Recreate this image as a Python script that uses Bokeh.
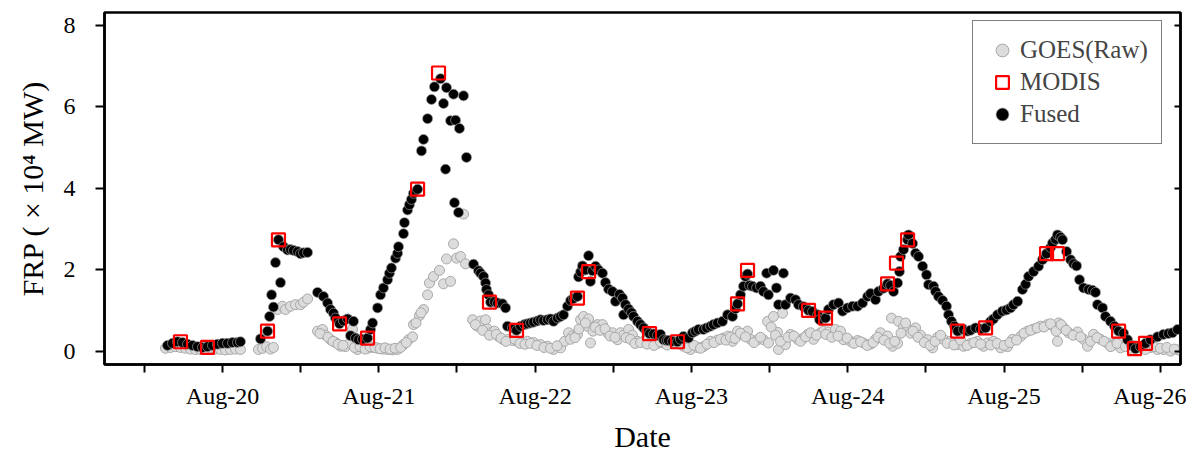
from bokeh.plotting import figure
from bokeh.models import (Range1d, FixedTicker, LinearAxis, Legend, LegendItem)
from bokeh.embed import file_html
from bokeh.resources import INLINE

# ---------------- data (x = day of August, FRP in 10^4 MW) ----------------
goes_day = [19.635, 19.667, 19.699, 19.731, 19.763, 19.795, 19.827, 19.859, 19.891, 19.923,
            19.955, 19.987, 20.019, 20.051, 20.083, 20.115,
            20.230, 20.256, 20.282, 20.307, 20.326, 20.352, 20.384, 20.403, 20.435, 20.467,
            20.499, 20.518, 20.544,
            20.608, 20.640, 20.659, 20.691, 20.723, 20.755, 20.787, 20.813, 20.832, 20.864,
            20.896, 20.928, 20.960, 20.992, 21.024, 21.056, 21.088, 21.120, 21.158, 21.190,
            21.216, 21.222, 21.260, 21.286, 21.312, 21.324, 21.350, 21.388, 21.414, 21.433,
            21.459, 21.478, 21.497, 21.523, 21.542, 21.555, 21.600, 21.631, 21.651, 21.683,
            21.695, 21.715, 21.740, 21.766, 21.798, 21.830, 21.855, 21.887, 21.919, 21.951,
            21.990, 22.035, 22.079, 22.118, 22.163, 22.188, 22.214, 22.239, 22.271, 22.291,
            22.310, 22.335, 22.342, 22.354, 22.399, 22.431, 22.463, 22.495, 22.527, 22.546,
            22.566, 22.598, 22.623, 22.655, 22.694, 22.738, 22.783, 22.822, 22.866, 22.911,
            22.949, 22.994, 23.039, 23.077, 23.122, 23.167, 23.205, 23.237, 23.263, 23.295,
            23.333, 23.359, 23.378, 23.423, 23.461, 23.487, 23.493, 23.525, 23.551, 23.557,
            23.583, 23.602, 23.634, 23.679, 23.717, 23.743, 23.781, 23.826, 23.845, 23.877,
            23.922, 23.954, 23.973, 24.018, 24.063, 24.101, 24.146, 24.178, 24.210, 24.255,
            24.280, 24.287, 24.319, 24.325, 24.357, 24.383, 24.402, 24.434, 24.466, 24.511,
            24.543, 24.575, 24.613, 24.658, 24.703, 24.741, 24.786, 24.830, 24.869, 24.895,
            24.933, 24.978, 25.022, 25.054, 25.106, 25.150, 25.189, 25.234, 25.278, 25.317,
            25.342, 25.349, 25.381, 25.413, 25.470, 25.509, 25.534, 25.573, 25.617, 25.662,
            25.701, 25.745, 25.809, 25.873, 25.937, 25.982, 26.020, 26.065, 26.116,
            # additional, overlapping GOES samples
            20.624, 20.675, 20.707, 20.739, 20.771, 20.845, 20.880, 20.912, 20.944, 20.976,
            21.008, 21.040, 21.072, 21.104, 21.140, 21.176, 21.238, 21.270, 21.618, 21.664,
            21.708, 21.752, 21.782, 21.814, 21.871, 21.903, 21.935, 21.970, 22.012, 22.057,
            22.098, 22.140, 22.226, 22.255, 22.280, 22.322, 22.370, 22.384, 22.415, 22.447,
            22.479, 22.511, 22.582, 22.610, 22.639, 22.675, 22.716, 22.760, 22.802, 22.844,
            22.888, 22.930, 22.972, 23.016, 23.058, 23.100, 23.144, 23.186, 23.220, 23.250,
            23.279, 23.314, 23.346, 23.400, 23.442, 23.510, 23.538, 23.570, 23.618, 23.656,
            23.698, 23.730, 23.762, 23.800, 23.860, 23.898, 23.938, 23.996, 24.040, 24.082,
            24.124, 24.162, 24.194, 24.232, 24.268, 24.300, 24.341, 24.370, 24.418, 24.450,
            24.490, 24.527, 24.559, 24.594, 24.636, 24.680, 24.722, 24.764, 24.808, 24.850,
            24.914, 24.956, 25.000, 25.038, 25.080, 25.128, 25.170, 25.212, 25.256, 25.298,
            25.333, 25.365, 25.397, 25.442, 25.490, 25.554, 25.595, 25.640, 25.682, 25.723,
            25.777, 25.841, 25.905, 25.960, 26.000, 26.042, 26.090]
goes_frp = [0.08, 0.10, 0.12, 0.10, 0.08, 0.06, 0.05, 0.05, 0.06, 0.08,
            0.06, 0.05, 0.04, 0.05, 0.06, 0.05,
            0.05, 0.08, 0.12, 0.06, 0.10, 1.03, 1.11, 1.03, 1.11, 1.15,
            1.15, 1.21, 1.29,
            0.50, 0.54, 0.40, 0.29, 0.22, 0.13, 0.12, 0.20, 0.55, 0.05,
            0.10, 0.08, 0.10, 0.08, 0.06, 0.05, 0.04, 0.05, 0.17, 0.29,
            0.36, 0.66, 0.88, 1.03, 1.39, 1.68, 1.84, 1.99, 1.66, 2.27,
            1.72, 2.64, 2.29, 2.33, 3.37, 2.15, 0.78, 0.62, 0.75, 0.78,
            0.55, 0.46, 0.50, 0.37, 0.29, 0.30, 0.27, 0.25, 0.22, 0.25,
            0.22, 0.17, 0.13, 0.05, 0.09, 0.25, 0.46, 0.38, 0.42, 0.78,
            0.86, 0.62, 0.80, 0.21, 0.66, 0.66, 0.46, 0.46, 0.29, 0.46,
            0.40, 0.54, 0.40, 0.25, 0.25, 0.21, 0.20, 0.21, 0.25, 0.20,
            0.13, 0.05, 0.10, 0.12, 0.25, 0.28, 0.33, 0.38, 0.25, 0.50,
            0.40, 0.50, 0.30, 0.29, 0.29, 0.74, 0.21, 0.86, 0.47, 0.05,
            0.94, 0.17, 0.42, 0.30, 0.33, 0.42, 0.30, 0.46, 0.50, 0.48,
            0.54, 0.50, 0.29, 0.25, 0.27, 0.21, 0.18, 0.30, 0.46, 0.38,
            0.82, 0.13, 0.20, 0.74, 0.60, 0.54, 0.45, 0.58, 0.40, 0.29,
            0.09, 0.35, 0.30, 0.25, 0.17, 0.13, 0.20, 0.25, 0.13, 0.21,
            0.25, 0.09, 0.12, 0.30, 0.37, 0.50, 0.55, 0.62, 0.66, 0.62,
            0.25, 0.70, 0.58, 0.46, 0.48, 0.30, 0.13, 0.42, 0.30, 0.21,
            0.17, 0.09, 0.08, 0.09, 0.10, 0.05, 0.05, 0.01, 0.04,
            0.44, 0.35, 0.25, 0.18, 0.15, 0.10, 0.12, 0.06, 0.12, 0.10,
            0.07, 0.09, 0.06, 0.08, 0.10, 0.22, 0.70, 0.95, 0.66, 0.52,
            0.40, 0.42, 0.33, 0.25, 0.30, 0.20, 0.18, 0.20, 0.15, 0.10,
            0.08, 0.14, 0.30, 0.34, 0.55, 0.70, 0.50, 0.60, 0.52, 0.56,
            0.38, 0.35, 0.34, 0.30, 0.20, 0.22, 0.18, 0.15, 0.24, 0.16,
            0.22, 0.18, 0.09, 0.15, 0.08, 0.18, 0.22, 0.30, 0.28, 0.35,
            0.32, 0.45, 0.36, 0.22, 0.35, 0.60, 0.40, 0.25, 0.35, 0.38,
            0.25, 0.36, 0.46, 0.40, 0.42, 0.35, 0.38, 0.33, 0.20, 0.24,
            0.15, 0.22, 0.35, 0.28, 0.20, 0.25, 0.45, 0.70, 0.50, 0.35,
            0.22, 0.15, 0.25, 0.40, 0.20, 0.16, 0.28, 0.15, 0.22, 0.18,
            0.16, 0.20, 0.15, 0.22, 0.28, 0.45, 0.52, 0.58, 0.60, 0.68,
            0.50, 0.66, 0.52, 0.40, 0.36, 0.25, 0.34, 0.25, 0.12, 0.20,
            0.12, 0.14, 0.05, 0.12, 0.08, 0.10, 0.06]

modis_day = [19.731, 19.904, 20.288, 20.358, 20.749, 20.928, 21.248, 21.382, 21.708, 21.881,
             22.271, 22.342, 22.732, 22.911, 23.295, 23.359, 23.749, 23.858, 24.255, 24.312,
             24.383, 24.703, 24.882, 25.272, 25.342, 25.733, 25.835, 25.905]
modis_frp = [0.24, 0.10, 0.50, 2.74, 0.68, 0.33, 3.98, 6.83, 1.21, 0.52,
             1.31, 1.96, 0.44, 0.24, 1.17, 1.99, 1.01, 0.82, 1.66, 2.17,
             2.74, 0.50, 0.58, 2.40, 2.40, 0.50, 0.07, 0.20]

fused_day = [19.648, 19.680, 19.712, 19.744, 19.776, 19.808, 19.840, 19.872, 19.904, 19.936,
             19.968, 20.000, 20.032, 20.064, 20.096, 20.115,
             20.243, 20.288, 20.301, 20.314, 20.326, 20.339, 20.358, 20.371, 20.390, 20.416,
             20.435, 20.454, 20.480, 20.499, 20.518, 20.544,
             20.608, 20.646, 20.672, 20.691, 20.710, 20.723, 20.749, 20.774, 20.800, 20.819,
             20.838, 20.851, 20.870, 20.896, 20.928, 20.947, 20.960, 20.992, 21.011, 21.030,
             21.056, 21.068, 21.081, 21.107, 21.120, 21.126, 21.158, 21.164, 21.184, 21.196,
             21.209, 21.222, 21.248, 21.273, 21.286, 21.312, 21.337, 21.356, 21.395, 21.414,
             21.427, 21.433, 21.459, 21.478, 21.484, 21.491, 21.510, 21.516, 21.542, 21.561,
             21.606, 21.638, 21.651, 21.670, 21.683, 21.689, 21.702, 21.715, 21.740, 21.760,
             21.791, 21.811,
             21.823, 21.855, 21.881, 21.907, 21.932, 21.951, 21.971, 21.990, 22.015, 22.035,
             22.054, 22.079, 22.099, 22.118, 22.143, 22.163, 22.182, 22.207, 22.227, 22.246,
             22.271, 22.278, 22.291, 22.303, 22.322, 22.342, 22.354, 22.367, 22.387, 22.406,
             22.431, 22.450, 22.470, 22.495, 22.514, 22.540, 22.559, 22.566, 22.578, 22.598,
             22.617, 22.630, 22.655, 22.674, 22.694, 22.713, 22.732, 22.758, 22.783, 22.802,
             22.822, 22.841, 22.853, 22.879, 22.911, 22.930, 22.949, 22.981, 23.007, 23.026,
             23.045, 23.077, 23.097, 23.122, 23.141, 23.167, 23.199, 23.231, 23.263, 23.282,
             23.295, 23.314, 23.333, 23.346, 23.359, 23.372, 23.391, 23.417, 23.442, 23.461,
             23.481, 23.493, 23.525, 23.544, 23.557, 23.589, 23.602, 23.634, 23.666, 23.685,
             23.717, 23.749, 23.775, 23.807, 23.820, 23.858, 23.877, 23.909, 23.941, 23.967,
             23.999, 24.031, 24.063, 24.095, 24.127, 24.146, 24.178, 24.197, 24.229, 24.255,
             24.274, 24.293, 24.319, 24.331, 24.338, 24.357, 24.383, 24.389, 24.415, 24.434,
             24.453, 24.479, 24.504, 24.517, 24.549, 24.562, 24.581, 24.607, 24.632, 24.645,
             24.664, 24.683, 24.703, 24.741, 24.767, 24.786, 24.818, 24.850, 24.882, 24.914,
             24.933, 24.958, 24.990, 25.016, 25.042, 25.061, 25.087, 25.118, 25.138, 25.157,
             25.189, 25.221, 25.246, 25.272, 25.298, 25.310, 25.330, 25.342, 25.362, 25.374,
             25.400, 25.426, 25.445, 25.464, 25.483, 25.509, 25.541, 25.566, 25.585, 25.598,
             25.630, 25.649, 25.681, 25.707, 25.733, 25.765, 25.790, 25.816, 25.841, 25.873,
             25.905, 25.937, 25.982, 26.020, 26.052, 26.078, 26.110]
fused_frp = [0.15, 0.20, 0.24, 0.22, 0.18, 0.15, 0.12, 0.10, 0.12, 0.15,
             0.18, 0.20, 0.20, 0.22, 0.22, 0.24,
             0.31, 0.50, 0.86, 1.39, 1.09, 2.18, 2.74, 1.69, 2.57, 2.49,
             2.50, 2.48, 2.45, 2.40, 2.42, 2.43,
             1.45, 1.35, 1.19, 1.03, 0.94, 0.82, 0.68, 0.75, 0.80, 0.39,
             0.74, 0.33, 0.29, 0.30, 0.33, 0.54, 0.70, 1.07, 1.39, 1.56,
             1.76, 1.92, 2.05, 2.29, 2.41, 2.57, 2.89, 3.16, 3.47, 3.60,
             3.73, 3.88, 3.98, 4.92, 5.20, 5.71, 6.18, 6.49, 6.69, 6.08,
             4.47, 6.47, 5.66, 6.31, 3.65, 5.67, 3.41, 5.47, 6.27, 4.76,
             2.14, 1.98, 1.92, 1.84, 1.68, 1.52, 1.39, 1.21, 1.22, 1.19,
             1.17, 1.07,
             0.62, 0.58, 0.52, 0.62, 0.66, 0.68, 0.70, 0.72, 0.75, 0.78,
             0.76, 0.78, 0.80, 0.74, 0.82, 0.86, 0.90, 1.11, 1.25, 1.30,
             1.35, 1.83, 1.95, 2.10, 2.00, 2.35, 1.72, 1.98, 2.09, 2.00,
             1.92, 1.69, 1.53, 1.47, 1.23, 1.40, 1.31, 0.90, 1.15, 1.04,
             0.95, 0.86, 0.74, 0.66, 0.58, 0.50, 0.44, 0.43, 0.40, 0.42,
             0.29, 0.27, 0.27, 0.25, 0.24, 0.30, 0.37, 0.33, 0.46, 0.50,
             0.54, 0.54, 0.58, 0.62, 0.66, 0.70, 0.74, 0.90, 0.86, 1.05,
             1.17, 1.39, 1.60, 1.84, 1.90, 1.62, 1.60, 1.56, 1.60, 1.47,
             1.92, 1.39, 1.99, 1.56, 1.15, 1.92, 1.15, 1.31, 1.27, 1.15,
             1.10, 1.01, 0.98, 0.90, 0.78, 0.82, 1.03, 1.15, 1.19, 0.99,
             1.07, 1.11, 1.11, 1.19, 1.35, 1.42, 1.27, 1.47, 1.55, 1.66,
             1.62, 1.47, 1.68, 1.96, 2.33, 2.50, 2.74, 2.86, 2.65, 2.41,
             2.33, 2.09, 1.88, 1.64, 1.60, 1.47, 1.35, 1.25, 1.11, 0.90,
             0.74, 0.62, 0.50, 0.54, 0.50, 0.52, 0.58, 0.55, 0.58, 0.74,
             0.80, 0.90, 0.99, 1.02, 1.07, 1.15, 1.23, 1.52, 1.65, 1.84,
             1.96, 2.09, 2.25, 2.40, 2.55, 2.66, 2.75, 2.86, 2.80, 2.74,
             2.45, 2.25, 2.15, 2.10, 1.76, 1.56, 1.52, 1.50, 1.45, 1.15,
             1.07, 0.86, 0.74, 0.62, 0.50, 0.45, 0.29, 0.15, 0.07, 0.12,
             0.20, 0.29, 0.36, 0.42, 0.44, 0.46, 0.54]

x_ticks = [19.5, 20.0, 20.5, 21.0, 21.5, 22.0, 22.5, 23.0, 23.5, 24.0, 24.5, 25.0, 25.5, 26.0]
x_tick_labels = ["", "Aug-20", "", "Aug-21", "", "Aug-22", "", "Aug-23", "", "Aug-24",
                 "", "Aug-25", "", "Aug-26"]
y_ticks = [0, 2, 4, 6, 8]

FONT = "Liberation Serif"

p = figure(width=1186, height=455, output_backend="svg", toolbar_location=None,
           x_range=Range1d(19.245, 26.129), y_range=Range1d(-0.318, 8.313),
           min_border_left=104, min_border_right=6, min_border_top=12, min_border_bottom=90)
p.grid.visible = False
p.outline_line_color = "black"
p.outline_line_width = 2.5
p.background_fill_color = "white"
p.border_fill_color = "white"

p.xaxis.ticker = FixedTicker(ticks=x_ticks)
p.xaxis.major_label_overrides = {t: l for t, l in zip(x_ticks, x_tick_labels)}
p.yaxis.ticker = FixedTicker(ticks=y_ticks)
for ax in (p.xaxis[0], p.yaxis[0]):
    ax.axis_line_width = 2.5
    ax.major_tick_line_width = 2
    ax.major_tick_in = 0
    ax.major_tick_out = 9
    ax.minor_tick_line_color = None
    ax.major_label_text_font = FONT
    ax.major_label_text_font_size = "24px"
    ax.major_label_text_color = "black"
    ax.axis_label_text_font = FONT
    ax.axis_label_text_font_size = "30px"
    ax.axis_label_text_font_style = "normal"
    ax.axis_label_text_color = "black"
p.xaxis.major_tick_out = 8
p.xaxis.major_label_standoff = 10
p.xaxis.axis_label = "Date"
p.xaxis.axis_label_standoff = 8
p.yaxis.major_label_standoff = 20
p.yaxis.axis_label = "FRP ( \u00d7 10\u2074 MW)"
p.yaxis.axis_label_standoff = 12

right = LinearAxis(ticker=FixedTicker(ticks=y_ticks), axis_line_width=2.5,
                   major_tick_in=6, major_tick_out=0, major_tick_line_width=2,
                   minor_tick_line_color=None,
                   major_label_overrides={t: "" for t in y_ticks},
                   major_label_standoff=0)
p.add_layout(right, "right")

g = p.scatter(goes_day, goes_frp, size=10, marker="circle", fill_color="#dcdcdc",
              line_color="#a8a8a8", line_width=1)
f = p.scatter(fused_day, fused_frp, size=10, marker="circle", fill_color="black",
              line_color="#9a9a9a", line_width=0.7)
m = p.scatter(modis_day, modis_frp, size=13, marker="square", fill_color=None,
              line_color="#ff0000", line_width=2.2)

legend = Legend(items=[LegendItem(label="GOES(Raw)", renderers=[g]),
                       LegendItem(label="MODIS", renderers=[m]),
                       LegendItem(label="Fused", renderers=[f])],
                location=(868, 220), margin=0, padding=13, spacing=0,
                glyph_width=32, glyph_height=32, label_height=32, label_standoff=2,
                label_text_font=FONT, label_text_font_size="25px",
                border_line_color="black", border_line_width=1.5,
                background_fill_color="white", background_fill_alpha=1)
p.add_layout(legend)

open("out.html", "w").write(file_html(p, INLINE))
